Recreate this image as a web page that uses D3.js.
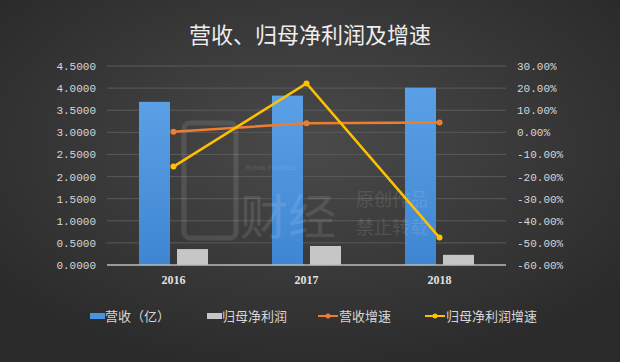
<!DOCTYPE html>
<html>
<head>
<meta charset="utf-8">
<script src="https://cdn.jsdelivr.net/npm/d3@7"></script>
<style>
  html, body { margin: 0; padding: 0; background: #333; }
  svg { display: block; }
</style>
</head>
<body>
<svg class="chart"></svg>
<script>
// values
var years = ["2016", "2017", "2018"],
  revenue = [3.69, 3.83, 4.01],          // 营收（亿）
  netProfit = [0.36, 0.43, 0.23],        // 归母净利润
  revenueGrowth = [0.003, 0.041, 0.044], // 营收增速
  profitGrowth = [-0.155, 0.221, -0.476],// 归母净利润增速
  leftTicks = [0, 0.5, 1, 1.5, 2, 2.5, 3, 3.5, 4, 4.5],
  rightTicks = [-0.6, -0.5, -0.4, -0.3, -0.2, -0.1, 0, 0.1, 0.2, 0.3],
  legendNames = ["营收（亿）", "归母净利润", "营收增速", "归母净利润增速"];

var W = 620, H = 362,
  margin = {top: 66, right: 114, bottom: 97, left: 107},
  width = W - margin.left - margin.right,
  height = H - margin.top - margin.bottom;

var svg = d3.select(".chart").attr("width", W).attr("height", H);

// dark radial background
var defs = svg.append("defs");
var bg = defs.append("radialGradient").attr("id", "bg")
  .attr("cx", "50%").attr("cy", "40%").attr("r", "65%");
bg.append("stop").attr("offset", "0%").attr("stop-color", "#4a4a4a");
bg.append("stop").attr("offset", "100%").attr("stop-color", "#2a2a2a");
var blueGrad = defs.append("linearGradient").attr("id", "blue")
  .attr("x1", 0).attr("y1", 0).attr("x2", 0).attr("y2", 1);
blueGrad.append("stop").attr("offset", "0%").attr("stop-color", "#5aa0e6");
blueGrad.append("stop").attr("offset", "100%").attr("stop-color", "#3f86d2");

svg.append("rect").attr("width", W).attr("height", H).attr("fill", "url(#bg)");

// title
svg.append("text")
   .attr("x", 310).attr("y", 43)
   .attr("text-anchor", "middle")
   .attr("fill", "#eeeeee")
   .style("font-family", "'Noto Sans CJK SC', sans-serif")
   .style("font-size", "22px")
   .text("营收、归母净利润及增速");

var g = svg.append("g")
  .attr("transform", "translate(" + margin.left + "," + margin.top + ")");

var xScale = d3.scaleBand().domain(years).range([0, width]),
  yLeft = d3.scaleLinear().domain([0, 4.5]).range([height, 0]),
  yRight = d3.scaleLinear().domain([-0.6, 0.3]).range([height, 0]);

// gridlines
g.append("g").selectAll("line")
 .data(leftTicks.slice(1))
 .enter().append("line")
 .attr("x1", 0).attr("x2", width)
 .attr("y1", function(d){ return yLeft(d); })
 .attr("y2", function(d){ return yLeft(d); })
 .attr("stroke", "#5a5a5a").attr("stroke-width", 1);

// bars
var barW = 31, gap = 7;
g.selectAll(".rev")
 .data(years)
 .enter().append("rect")
 .attr("class", "rev")
 .attr("x", function(d){ return xScale(d) + xScale.bandwidth() / 2 - gap / 2 - barW; })
 .attr("y", function(d, i){ return yLeft(revenue[i]); })
 .attr("width", barW)
 .attr("height", function(d, i){ return height - yLeft(revenue[i]); })
 .attr("fill", "url(#blue)");

g.selectAll(".np")
 .data(years)
 .enter().append("rect")
 .attr("class", "np")
 .attr("x", function(d){ return xScale(d) + xScale.bandwidth() / 2 + gap / 2; })
 .attr("y", function(d, i){ return yLeft(netProfit[i]); })
 .attr("width", barW)
 .attr("height", function(d, i){ return height - yLeft(netProfit[i]); })
 .attr("fill", "#c6c6c6");

// watermark (faint, over the bars)
var wm = g.append("g").attr("fill", "#ffffff").attr("opacity", 0.1)
  .style("font-family", "'Noto Sans CJK SC', sans-serif");
wm.append("rect").attr("x", 77).attr("y", 57).attr("width", 52).attr("height", 115)
  .attr("rx", 6).attr("fill", "none").attr("stroke", "#fff").attr("stroke-width", 5);
wm.append("text").attr("x", 133).attr("y", 168).style("font-size", "48px").text("财经");
wm.append("text").attr("x", 249).attr("y", 140).style("font-size", "18px").text("原创作品");
wm.append("text").attr("x", 249).attr("y", 168).style("font-size", "18px").text("禁止转载");
wm.append("text").attr("x", 138).attr("y", 104).style("font-size", "8px")
  .style("font-family", "'Liberation Sans', sans-serif").text("Break Finance");

// baseline
g.append("line")
 .attr("x1", 0).attr("x2", width)
 .attr("y1", height).attr("y2", height)
 .attr("stroke", "#bdbdbd").attr("stroke-width", 1.5);

// lines
function drawLine(values, color){
  var line = d3.line()
    .x(function(d, i){ return xScale(years[i]) + xScale.bandwidth() / 2; })
    .y(function(d){ return yRight(d); });
  g.append("path")
   .datum(values)
   .attr("d", line)
   .attr("fill", "none")
   .attr("stroke", color)
   .attr("stroke-width", 2.5);
  g.selectAll(null)
   .data(values)
   .enter().append("circle")
   .attr("cx", function(d, i){ return xScale(years[i]) + xScale.bandwidth() / 2; })
   .attr("cy", function(d){ return yRight(d); })
   .attr("r", 3)
   .attr("fill", color);
}
drawLine(revenueGrowth, "#ed7d31");
drawLine(profitGrowth, "#ffc000");

// axes
var tickFont = "'Liberation Mono', 'DejaVu Sans Mono', monospace";

var leftAxis = g.append("g")
  .call(d3.axisLeft(yLeft).tickValues(leftTicks).tickSize(0).tickPadding(11)
    .tickFormat(function(d){ return d.toFixed(4); }));
leftAxis.select(".domain").remove();
leftAxis.selectAll("text").attr("fill", "#d6d6d6")
  .style("font-family", tickFont).style("font-size", "11px");

var rightAxis = g.append("g")
  .attr("transform", "translate(" + width + ",0)")
  .call(d3.axisRight(yRight).tickValues(rightTicks).tickSize(0).tickPadding(11)
    .tickFormat(function(d){ return (d * 100).toFixed(2) + "%"; }));
rightAxis.select(".domain").remove();
rightAxis.selectAll("text").attr("fill", "#d6d6d6")
  .style("font-family", tickFont).style("font-size", "11px");

var xAxis = g.append("g")
  .attr("transform", "translate(0," + height + ")")
  .call(d3.axisBottom(xScale).tickSize(0).tickPadding(10));
xAxis.select(".domain").remove();
xAxis.selectAll("text").attr("fill", "#e0e0e0")
  .style("font-family", "'Liberation Serif', serif").style("font-size", "12px")
  .style("font-weight", "bold");

// legend
var legendX = [90, 207, 318, 425],
  legend = svg.append("g").attr("transform", "translate(0,316)");
var items = legend.selectAll("g")
  .data(legendNames)
  .enter().append("g")
  .attr("transform", function(d, i){ return "translate(" + legendX[i] + ",0)"; });

items.each(function(d, i){
  var it = d3.select(this);
  if(i < 2){
    it.append("rect").attr("x", 0).attr("y", -3).attr("width", 15).attr("height", 6)
      .attr("fill", i == 0 ? "#4a93de" : "#c6c6c6");
  } else {
    var c = i == 2 ? "#ed7d31" : "#ffc000";
    it.append("line").attr("x1", 0).attr("x2", 20).attr("y1", 0).attr("y2", 0)
      .attr("stroke", c).attr("stroke-width", 2);
    it.append("circle").attr("cx", 10).attr("cy", 0).attr("r", 2.5).attr("fill", c);
  }
  it.append("text")
    .attr("x", i < 2 ? 15 : 21).attr("y", 5)
    .attr("fill", "#d6d6d6")
    .style("font-family", "'Noto Sans CJK SC', sans-serif")
    .style("font-size", "13px")
    .text(d);
});
</script>
</body>
</html>
